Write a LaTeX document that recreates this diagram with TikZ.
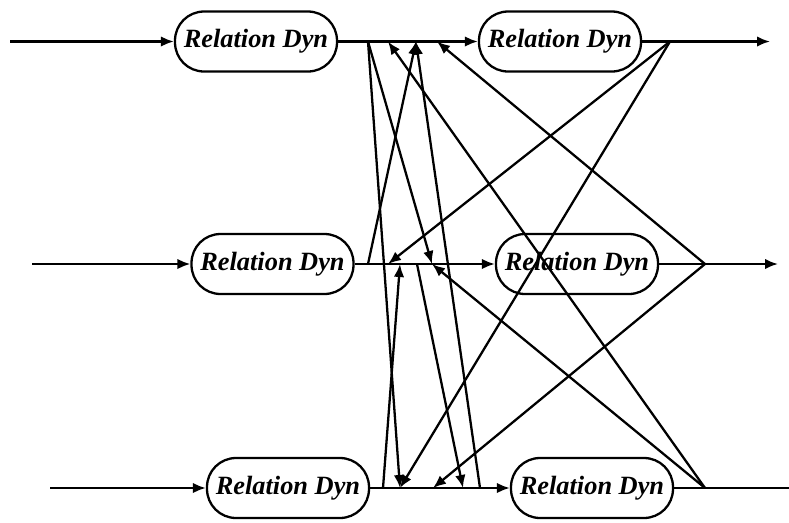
\documentclass[tikz,border=0pt]{standalone}
\usepackage{fontspec}
\setmainfont{Liberation Serif}
\usetikzlibrary{arrows.meta}
\tikzset{
  dyn/.style={draw, line width=1.3pt, rounded corners=0.58cm, minimum width=3.24cm, minimum height=1.2cm, inner sep=0pt, font=\fontsize{15}{18}\selectfont\bfseries\itshape},
  wire/.style={line width=1.3pt},
  flow/.style={wire, -{Latex[length=2.6mm,width=2.1mm]}},
}
\begin{document}
\begin{tikzpicture}[x=0.02cm,y=-0.02cm]
			\useasboundingbox (0,0) rectangle (789,522);
			% first layer
			\node[dyn] (a1) at (256,41.5) {Relation Dyn};
			\node[dyn] (a2) at (272.5,264) {Relation Dyn};
			\node[dyn] (a3) at (288,488) {Relation Dyn};
			% second layer
			\node[dyn] (b1) at (560,41.5) {Relation Dyn};
			\node[dyn] (b2) at (577,264) {Relation Dyn};
			\node[dyn] (b3) at (592,488) {Relation Dyn};
			% ends of the rows
			\coordinate (in1) at (10,41.5);  \coordinate (out1) at (770,41.5);
			\coordinate (in2) at (32,264);   \coordinate (out2) at (778,264);
			\coordinate (in3) at (50,488);   \coordinate (out3) at (789,488);
			\coordinate (j1) at (670,41.5);
			\coordinate (j2) at (705,264);
			\coordinate (j3) at (705,488);
			% split points and entry points between the layers
			\coordinate (s1) at (368,41.5);
			\coordinate (p1a) at (388,41.5); \coordinate (p1b) at (416,41.5); \coordinate (p1c) at (437,41.5);
			\coordinate (s2a) at (368,264);  \coordinate (s2b) at (417,264);
			\coordinate (p2a) at (388,264);  \coordinate (p2b) at (400,264);  \coordinate (p2c) at (432,264);
			\coordinate (s3a) at (383,488);  \coordinate (s3b) at (480,488);
			\coordinate (p3a) at (400,488);  \coordinate (p3b) at (433,488);  \coordinate (p3c) at (463,488);
			% rows
			\foreach \i in {1,2,3} {
				\draw[flow] (in\i) -- (a\i);
				\draw[flow] (a\i) -- (b\i);
				\draw[wire] (b\i) -- (j\i);
			}
			\draw[flow] (j1) -- (out1);
			\draw[flow] (j2) -- (out2);
			\draw[wire] (j3) -- (out3);
			% cross links
			\foreach \f/\t in {s1/p3a, s1/p2c, s2a/p1b, s2b/p3c, s3a/p2b, s3b/p1b, j1/p2a, j1/p3a, j2/p1c, j2/p3b, j3/p1a, j3/p2c} {
				\draw[flow] (\f) -- (\t);
			}
		\end{tikzpicture}
\end{document}
